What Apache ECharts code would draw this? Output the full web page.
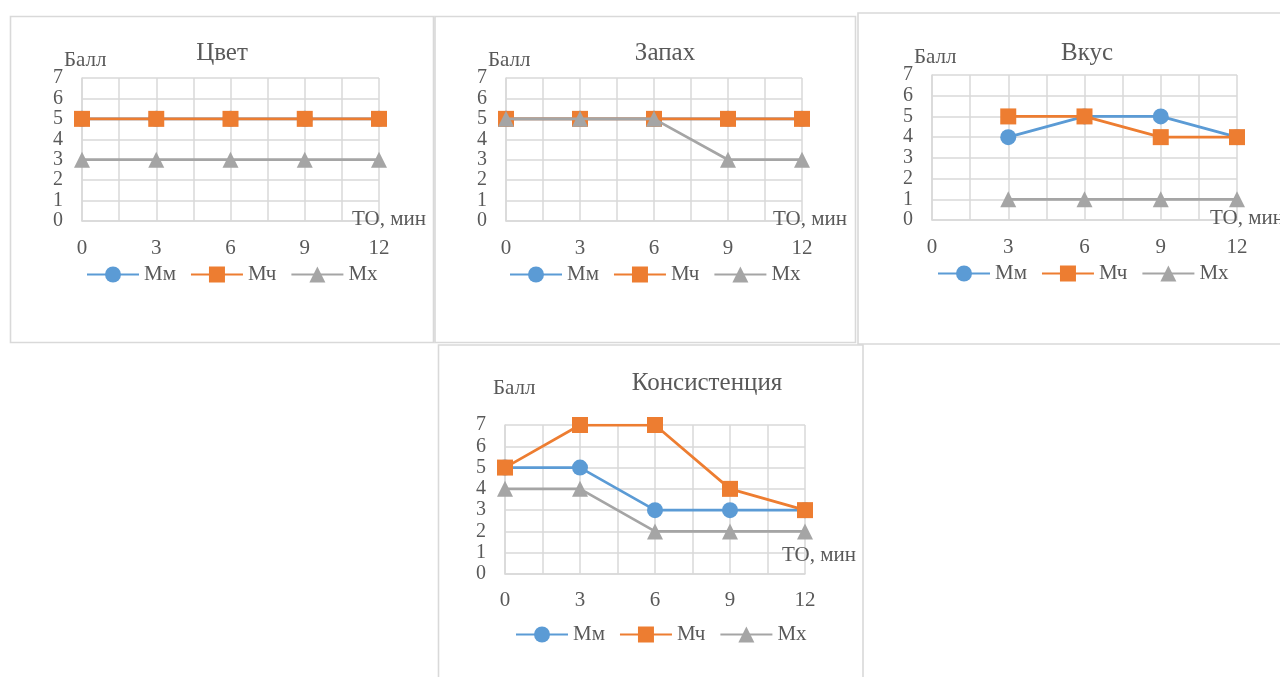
<!DOCTYPE html>
<html>
<head>
<meta charset="utf-8">
<script src="https://cdn.jsdelivr.net/npm/echarts@6/dist/echarts.min.js"></script>
<style>
  html, body { margin: 0; padding: 0; background: #ffffff; overflow: hidden; }
  #chart { width: 1280px; height: 677px; }
</style>
</head>
<body>
<div id="chart"></div>
<script>
// Time of treatment (min) and scores for the three samples
const xTicks = [0, 3, 6, 9, 12];
const seriesNames = ['Мм', 'Мч', 'Мх'];
const panelTitles = ['Цвет', 'Запах', 'Вкус', 'Консистенция'];

const colorTimes = [0, 3, 6, 9, 12];
const colorMm = [5, 5, 5, 5, 5];
const colorMch = [5, 5, 5, 5, 5];
const colorMx = [3, 3, 3, 3, 3];

const smellTimes = [0, 3, 6, 9, 12];
const smellMm = [5, 5, 5, 5, 5];
const smellMch = [5, 5, 5, 5, 5];
const smellMx = [5, 5, 5, 3, 3];

const tasteTimes = [3, 6, 9, 12];
const tasteMm = [4, 5, 5, 4];
const tasteMch = [5, 5, 4, 4];
const tasteMx = [1, 1, 1, 1];

const consTimes = [0, 3, 6, 9, 12];
const consMm = [5, 5, 3, 3, 3];
const consMch = [5, 7, 7, 4, 3];
const consMx = [4, 4, 2, 2, 2];

const panelData = [
  { times: colorTimes, values: [colorMm, colorMch, colorMx] },
  { times: smellTimes, values: [smellMm, smellMch, smellMx] },
  { times: tasteTimes, values: [tasteMm, tasteMch, tasteMx] },
  { times: consTimes, values: [consMm, consMch, consMx] }
];

const FONT = 'Liberation Serif';
const TEXT = '#595959';
const GRID_LINE = '#d9d9d9';
const COLORS = ['#5B9BD5', '#ED7D31', '#A5A5A5'];
const SYMBOLS = ['circle', 'rect', 'triangle'];
const LABEL_SIZE = 21;
const Y_LABEL_SIZE = 20;
const TITLE_SIZE = 25;
const LEGEND_ICON_H = 20;

// Layout of each panel: frame, plot area, title, axis names, legend
const panels = [
  { frame: [10.5, 16.5, 423, 326], grid: [82, 78, 297, 143], title: [222, 53],
    yName: [64, 60], xName: [352, 219], legend: [86, 274], labelMargin: 17 },
  { frame: [435, 16.5, 420.5, 326], grid: [506, 78, 296, 143], title: [665, 53],
    yName: [488, 60], xName: [773, 219], legend: [509, 274], labelMargin: 17 },
  { frame: [858, 13, 440, 331], grid: [932, 75, 305, 145], title: [1087, 53],
    yName: [914, 57], xName: [1210, 218], legend: [937, 273], labelMargin: 17 },
  { frame: [438.5, 345, 424.5, 345], grid: [505, 425, 300, 149], title: [707, 383],
    yName: [493, 388], xName: [782, 555], legend: [515, 634], labelMargin: 16 }
];

const option = {
  animation: false,
  textStyle: { fontFamily: FONT },
  title: [], legend: [], grid: [], xAxis: [], yAxis: [], series: [], graphic: []
};

panels.forEach((p, i) => {
  option.graphic.push({
    type: 'rect', silent: true, z: -10,
    shape: { x: p.frame[0], y: p.frame[1], width: p.frame[2], height: p.frame[3] },
    style: { fill: '#ffffff', stroke: GRID_LINE, lineWidth: 1.6 }
  });
  option.graphic.push({
    type: 'text', silent: true, z: 10, x: p.yName[0], y: p.yName[1],
    style: { text: 'Балл', fontFamily: FONT, fontSize: LABEL_SIZE, fill: TEXT, verticalAlign: 'middle' }
  });
  option.graphic.push({
    type: 'text', silent: true, z: 10, x: p.xName[0], y: p.xName[1],
    style: { text: 'ТО, мин', fontFamily: FONT, fontSize: LABEL_SIZE, fill: TEXT, verticalAlign: 'middle' }
  });

  option.title.push({
    text: panelTitles[i], left: p.title[0], top: p.title[1], padding: 0,
    textAlign: 'center', textVerticalAlign: 'middle',
    textStyle: { fontFamily: FONT, fontSize: TITLE_SIZE, fontWeight: 'normal', color: TEXT }
  });

  option.legend.push({
    data: seriesNames, left: p.legend[0], top: p.legend[1] - LEGEND_ICON_H / 2, padding: 0,
    itemWidth: 52, itemHeight: LEGEND_ICON_H, itemGap: 14, selectedMode: false,
    textStyle: { fontFamily: FONT, fontSize: LABEL_SIZE, color: TEXT }
  });

  option.grid.push({ left: p.grid[0], top: p.grid[1], width: p.grid[2], height: p.grid[3], containLabel: false });

  option.xAxis.push({
    type: 'value', gridIndex: i, min: xTicks[0], max: xTicks[xTicks.length - 1], interval: 1.5,
    axisLine: { show: true, lineStyle: { color: GRID_LINE, width: 1.5 } },
    axisTick: { show: false },
    splitLine: { show: true, lineStyle: { color: GRID_LINE, width: 1.5 } },
    axisLabel: {
      margin: p.labelMargin, fontFamily: FONT, fontSize: LABEL_SIZE, color: TEXT,
      showMinLabel: true, showMaxLabel: true, hideOverlap: false,
      formatter: v => (xTicks.indexOf(v) >= 0 ? String(v) : '')
    }
  });

  option.yAxis.push({
    type: 'value', gridIndex: i, min: 0, max: 7, interval: 1,
    axisLine: { show: true, lineStyle: { color: GRID_LINE, width: 1.5 } },
    axisTick: { show: false },
    splitLine: { show: true, lineStyle: { color: GRID_LINE, width: 1.5 } },
    axisLabel: {
      margin: 19, fontFamily: FONT, fontSize: Y_LABEL_SIZE, color: TEXT, lineHeight: 14,
      showMinLabel: true, showMaxLabel: true, hideOverlap: false
    }
  });

  const d = panelData[i];
  seriesNames.forEach((name, k) => {
    option.series.push({
      type: 'line', name: name, xAxisIndex: i, yAxisIndex: i,
      data: d.times.map((t, j) => [t, d.values[k][j]]),
      symbol: SYMBOLS[k], symbolSize: 16, showSymbol: true,
      lineStyle: { color: COLORS[k], width: 2.75 },
      itemStyle: { color: COLORS[k] },
      z: 2 + k
    });
  });
});

const chart = echarts.init(document.getElementById('chart'), null, { renderer: 'canvas' });
chart.setOption(option);
</script>
</body>
</html>
